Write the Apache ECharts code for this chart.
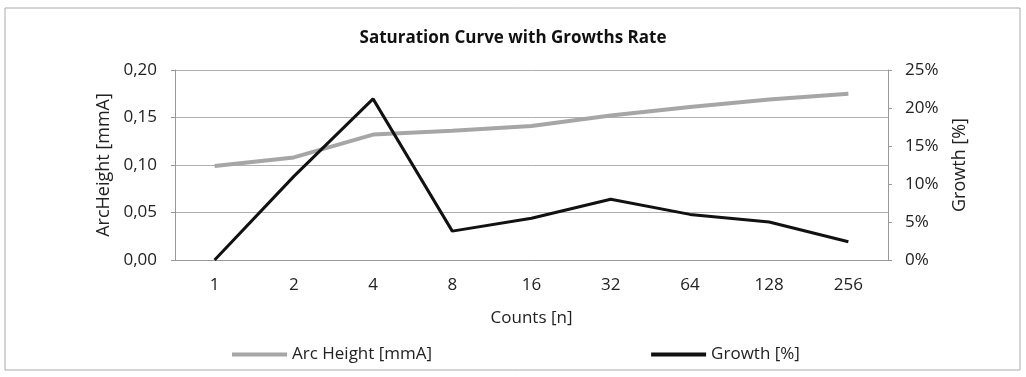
<!DOCTYPE html>
<html><head><meta charset="utf-8">
<script src="https://cdn.jsdelivr.net/npm/echarts@6/dist/echarts.min.js"></script>
<style>html,body{margin:0;padding:0;background:#fff}#c{width:1026px;height:377px}</style>
</head><body><div id="c"></div>
<script>
const categories = ['1','2','4','8','16','32','64','128','256'];
const arcHeight = [0.099, 0.108, 0.132, 0.136, 0.141, 0.152, 0.161, 0.169, 0.175];
const growth = [0, 11.0, 21.2, 3.8, 5.5, 8.0, 6.0, 5.0, 2.4];
const leftTicks = [0, 0.05, 0.10, 0.15, 0.20];
const rightTicks = [0, 5, 10, 15, 20, 25];

const FONT = 'Open Sans';
const FS = 17;
const chart = echarts.init(document.getElementById('c'), null, {renderer:'canvas'});
chart.setOption({
  backgroundColor: '#fff',
  animation: false,
  textStyle: {fontFamily: FONT, color: '#222'},
  title: {text: 'Saturation Curve with Growths Rate', left: 'center', top: 25,
    textStyle: {fontFamily: FONT, fontSize: 17, fontWeight: 'bold', color: '#111'}},
  graphic: [{type: 'rect', shape: {x: 5, y: 8, width: 1015, height: 362},
    style: {fill: 'none', stroke: '#aaa', lineWidth: 1}, silent: true}],
  grid: {left: 175, right: 138, top: 70, bottom: 117},
  legend: {left: 227, top: 341, itemGap: 219, itemWidth: 55, itemHeight: 4, icon: 'rect',
    textStyle: {fontFamily: FONT, fontSize: FS, color: '#222'},
    data: ['Arc Height [mmA]', 'Growth [%]']},
  xAxis: {type: 'category', data: categories, boundaryGap: true,
    name: 'Counts [n]', nameLocation: 'middle', nameGap: 50,
    nameTextStyle: {fontFamily: FONT, fontSize: FS, color: '#222'},
    axisLine: {lineStyle: {color: '#999'}}, axisTick: {show: false},
    axisLabel: {fontFamily: FONT, fontSize: FS, color: '#222', margin: 17}},
  yAxis: [
    {type: 'value', min: leftTicks[0], max: leftTicks[leftTicks.length-1], interval: 0.05,
     name: 'ArcHeight [mmA]', nameLocation: 'middle', nameGap: 62,
     nameTextStyle: {fontFamily: FONT, fontSize: 18, color: '#222'},
     axisLine: {show: true, lineStyle: {color: '#999'}},
     axisTick: {show: true, length: 4, lineStyle: {color: '#999'}},
     splitLine: {lineStyle: {color: '#b0b0b0', width: 1}},
     axisLabel: {fontFamily: FONT, fontSize: FS, color: '#222', margin: 18,
       formatter: v => v.toFixed(2).replace('.', ',')}},
    {type: 'value', min: rightTicks[0], max: rightTicks[rightTicks.length-1], interval: 5,
     name: 'Growth [%]', nameLocation: 'middle', nameGap: 63,
     nameTextStyle: {fontFamily: FONT, fontSize: 18, color: '#222'},
     axisLine: {show: true, lineStyle: {color: '#999'}},
     axisTick: {show: true, length: 4, lineStyle: {color: '#999'}},
     splitLine: {show: false},
     axisLabel: {fontFamily: FONT, fontSize: FS, color: '#222', margin: 17,
       formatter: v => v + '%'}}
  ],
  series: [
    {name: 'Arc Height [mmA]', type: 'line', yAxisIndex: 0, data: arcHeight,
     symbol: 'none', lineStyle: {color: '#a6a6a6', width: 4}, itemStyle: {color: '#a6a6a6'}},
    {name: 'Growth [%]', type: 'line', yAxisIndex: 1, data: growth,
     symbol: 'none', lineStyle: {color: '#111', width: 3}, itemStyle: {color: '#111'}}
  ]
});
</script></body></html>
